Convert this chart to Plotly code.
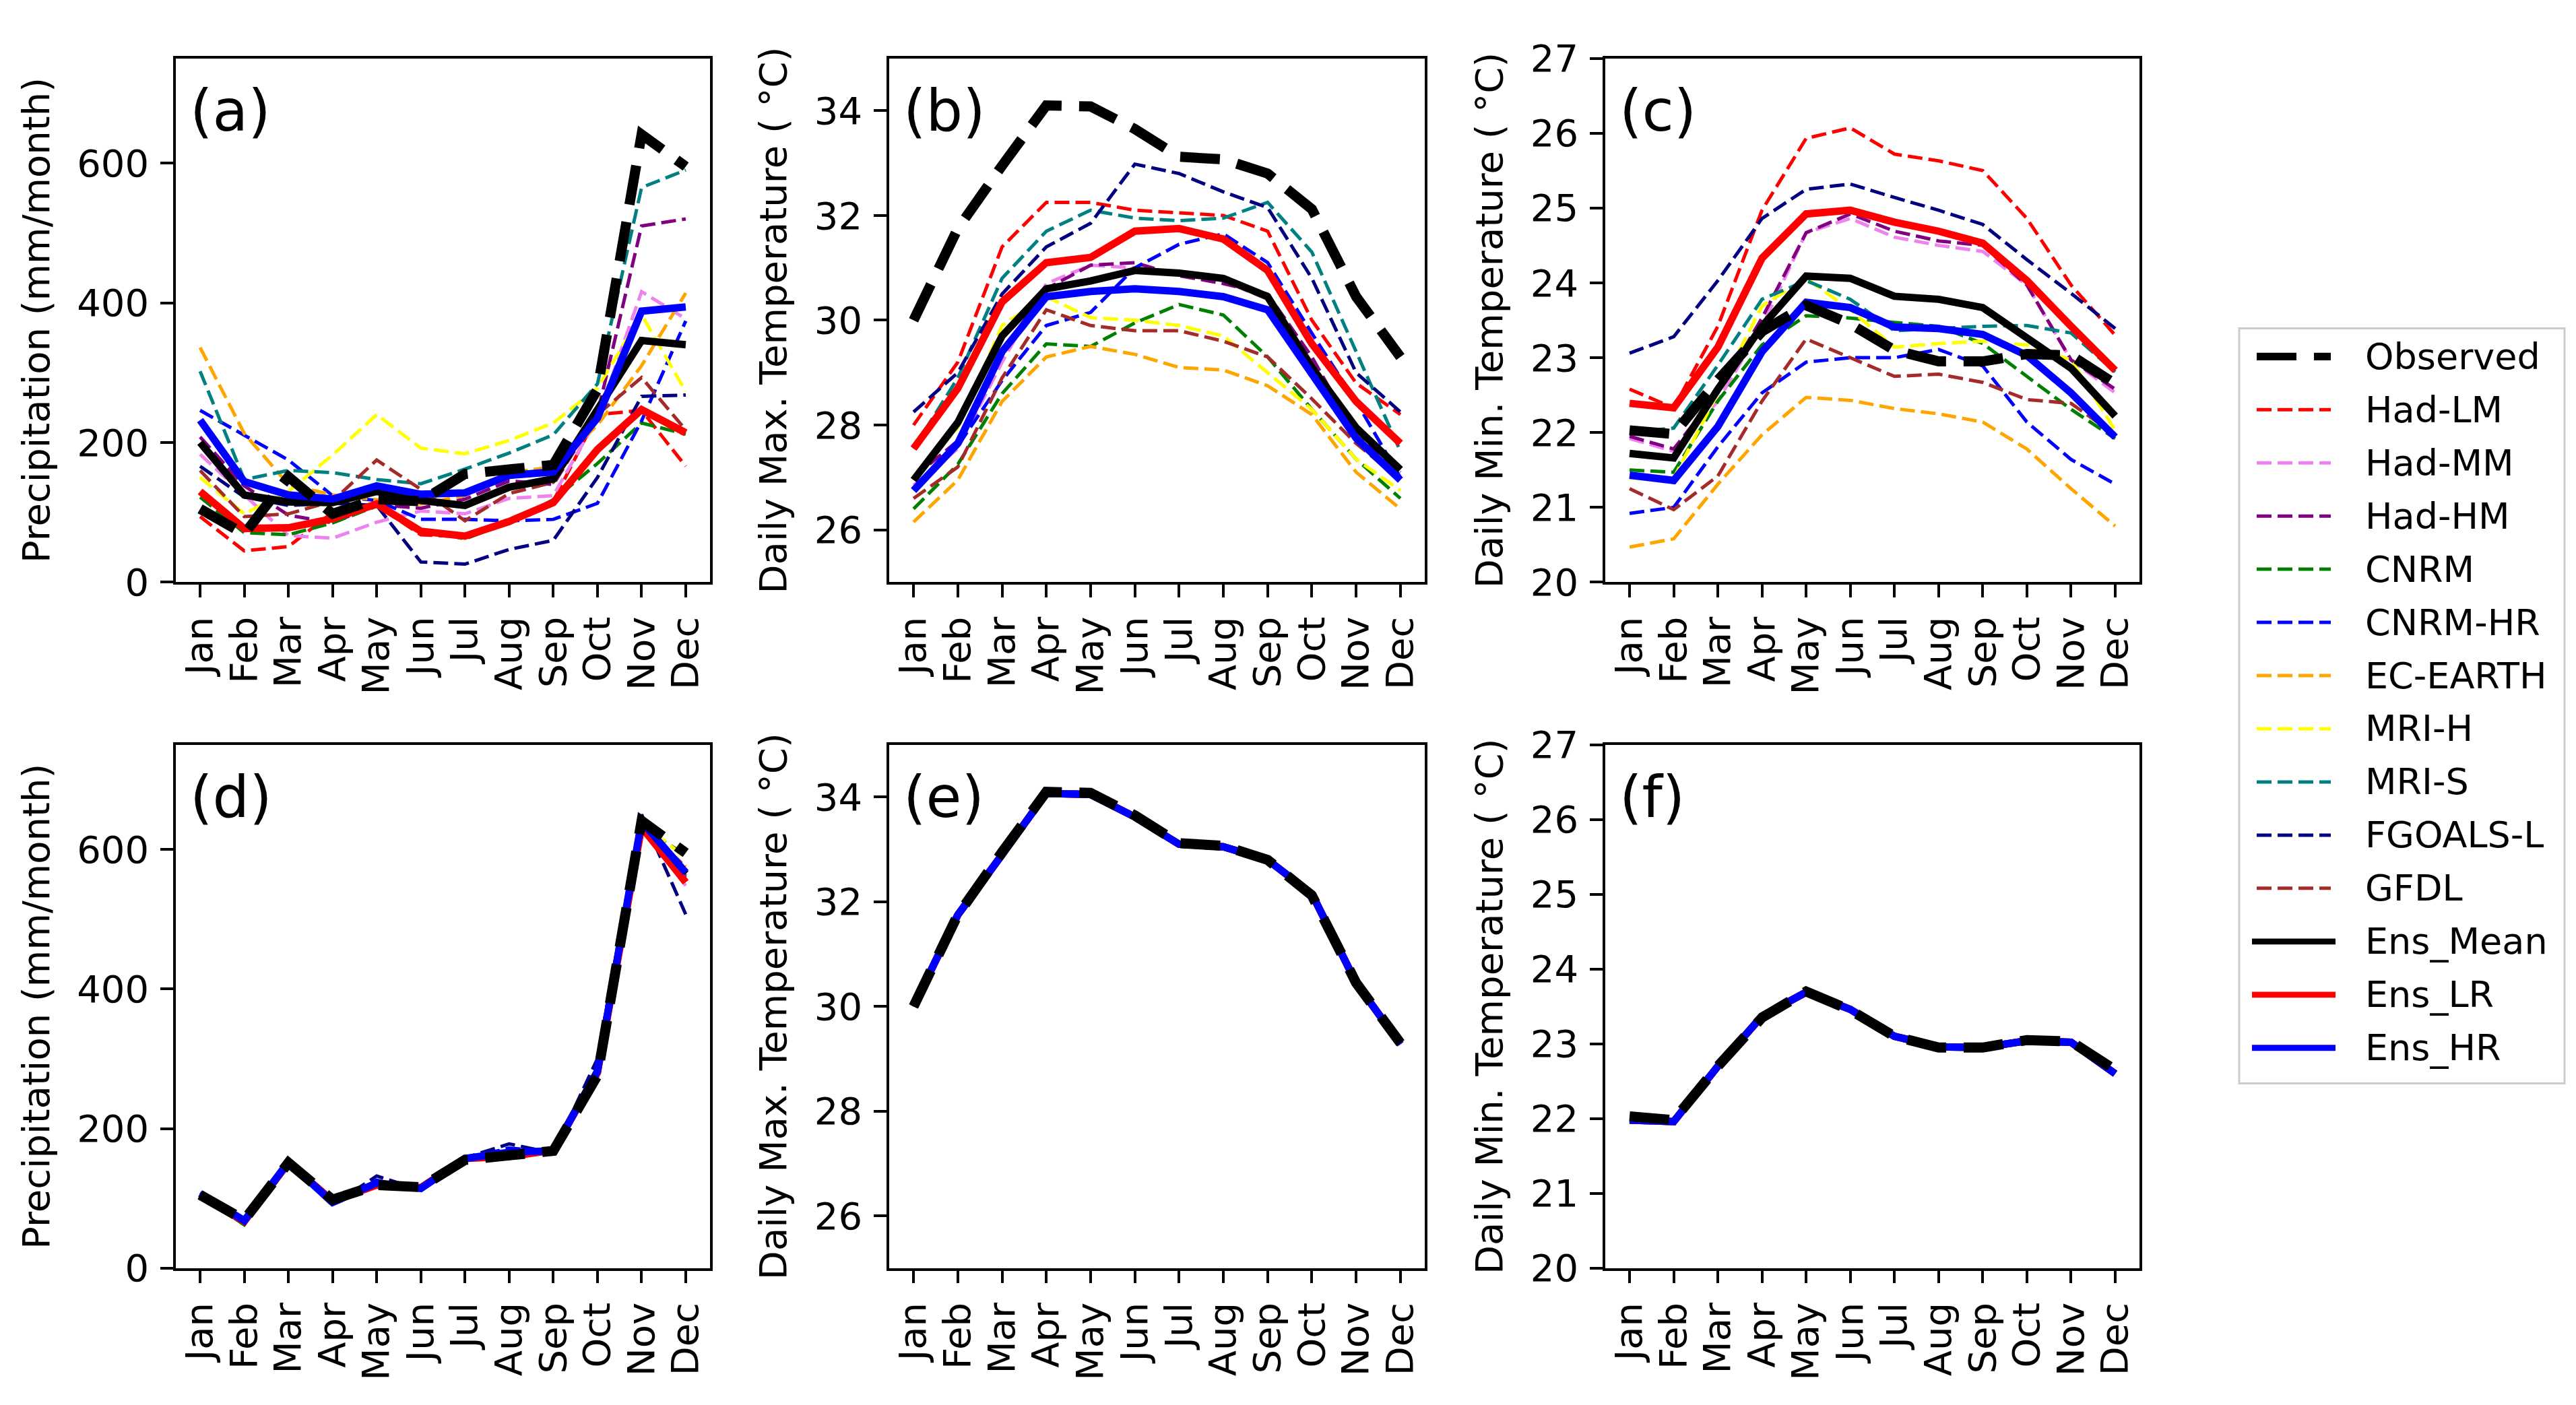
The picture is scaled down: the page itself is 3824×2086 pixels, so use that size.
import plotly.graph_objects as go

W, H = 3824, 2086

months = ['Jan', 'Feb', 'Mar', 'Apr', 'May', 'Jun', 'Jul', 'Aug', 'Sep', 'Oct', 'Nov', 'Dec']
model_names = ['Had-LM', 'Had-MM', 'Had-HM', 'CNRM', 'CNRM-HR', 'EC-EARTH',
               'MRI-H', 'MRI-S', 'FGOALS-L', 'GFDL']
ens_names = ['Ens_Mean', 'Ens_LR', 'Ens_HR']
model_colors = ['red', 'violet', 'purple', 'green', 'blue', 'orange',
                'yellow', 'teal', 'navy', 'brown']
ens_colors = ['black', 'red', 'blue']

# ---- (a) raw precipitation (mm/month)
obs_pr = [105, 69, 151, 98, 119, 116, 155, 161, 168, 276, 641, 595]
had_lm_pr = [94, 45, 51, 100, 110, 68, 65, 88, 116, 240, 246, 166]
had_mm_pr = [183, 125, 67, 63, 86, 102, 98, 120, 124, 235, 416, 377]
had_hm_pr = [208, 138, 96, 85, 111, 106, 119, 145, 140, 241, 510, 520]
cnrm_pr = [122, 71, 68, 85, 109, 75, 62, 86, 118, 170, 228, 212]
cnrm_hr_pr = [246, 210, 175, 124, 117, 90, 90, 88, 90, 113, 231, 374]
ec_earth_pr = [336, 213, 140, 125, 118, 112, 124, 157, 165, 225, 310, 414]
mri_h_pr = [150, 98, 130, 182, 240, 192, 184, 203, 228, 278, 383, 273]
mri_s_pr = [302, 147, 160, 157, 147, 141, 162, 185, 211, 284, 565, 590]
fgoals_l_pr = [166, 122, 110, 113, 110, 29, 26, 47, 60, 150, 266, 268]
gfdl_pr = [160, 94, 98, 116, 175, 133, 88, 127, 143, 240, 293, 218]
ens_mean_pr = [200, 125, 115, 114, 130, 117, 110, 136, 148, 247, 346, 340]
ens_lr_pr = [130, 77, 78, 91, 112, 73, 66, 87, 114, 190, 247, 214]
ens_hr_pr = [232, 144, 125, 119, 138, 126, 128, 153, 158, 235, 388, 394]

# ---- (b) raw daily max temperature (deg C)
obs_tx = [30.0, 31.75, 32.95, 34.1, 34.08, 33.65, 33.12, 33.07, 32.8, 32.12, 30.45, 29.3]
had_lm_tx = [28.0, 29.2, 31.4, 32.25, 32.25, 32.1, 32.05, 32.0, 31.7, 30.0, 28.8, 28.2]
had_mm_tx = [26.85, 27.55, 29.2, 30.7, 31.05, 31.0, 30.9, 30.75, 30.4, 29.2, 27.7, 27.0]
had_hm_tx = [27.0, 27.7, 29.4, 30.6, 31.05, 31.1, 30.85, 30.7, 30.5, 29.3, 27.8, 27.1]
cnrm_tx = [26.4, 27.25, 28.6, 29.55, 29.5, 29.95, 30.3, 30.1, 29.3, 28.3, 27.35, 26.6]
cnrm_hr_tx = [26.8, 27.6, 28.85, 29.9, 30.15, 31.0, 31.45, 31.65, 31.1, 29.75, 28.45, 27.0]
ec_earth_tx = [26.15, 26.95, 28.45, 29.3, 29.5, 29.35, 29.1, 29.05, 28.75, 28.2, 27.1, 26.4]
mri_h_tx = [27.0, 27.95, 29.9, 30.45, 30.05, 30.0, 29.9, 29.7, 29.0, 28.3, 27.35, 26.75]
mri_s_tx = [27.55, 28.9, 30.8, 31.7, 32.1, 31.95, 31.9, 31.95, 32.25, 31.3, 29.4, 27.5]
fgoals_l_tx = [28.25, 29.0, 30.5, 31.4, 31.85, 32.98, 32.8, 32.45, 32.15, 30.8, 29.0, 28.25]
gfdl_tx = [26.6, 27.2, 28.9, 30.2, 29.9, 29.8, 29.8, 29.6, 29.3, 28.5, 27.65, 26.95]
ens_mean_tx = [26.95, 28.05, 29.7, 30.6, 30.75, 30.95, 30.9, 30.8, 30.45, 29.1, 27.95, 27.15]
ens_lr_tx = [27.55, 28.7, 30.35, 31.1, 31.2, 31.7, 31.75, 31.55, 30.95, 29.55, 28.45, 27.65]
ens_hr_tx = [26.75, 27.65, 29.4, 30.45, 30.55, 30.6, 30.55, 30.45, 30.2, 29.0, 27.75, 26.95]

# ---- (c) raw daily min temperature (deg C)
obs_tn = [22.03, 21.98, 22.7, 23.35, 23.7, 23.45, 23.1, 22.95, 22.95, 23.05, 23.03, 22.65]
had_lm_tn = [22.58, 22.33, 23.42, 24.97, 25.93, 26.07, 25.72, 25.63, 25.5, 24.86, 23.97, 23.3]
had_mm_tn = [21.92, 21.75, 22.42, 23.42, 24.67, 24.86, 24.61, 24.5, 24.42, 23.97, 22.97, 22.53]
had_hm_tn = [21.95, 21.78, 22.53, 23.53, 24.67, 24.92, 24.69, 24.56, 24.5, 23.97, 22.97, 22.58]
cnrm_tn = [21.5, 21.47, 22.42, 23.17, 23.56, 23.53, 23.47, 23.42, 23.19, 22.75, 22.31, 21.92]
cnrm_hr_tn = [20.92, 21.0, 21.81, 22.53, 22.94, 23.0, 23.0, 23.11, 22.89, 22.14, 21.64, 21.31]
ec_earth_tn = [20.47, 20.58, 21.31, 21.97, 22.47, 22.43, 22.32, 22.25, 22.14, 21.78, 21.25, 20.75]
mri_h_tn = [21.39, 21.39, 22.53, 23.69, 24.06, 23.64, 23.14, 23.19, 23.22, 23.17, 22.97, 22.03]
mri_s_tn = [22.0, 22.06, 22.9, 23.78, 24.03, 23.78, 23.36, 23.39, 23.42, 23.43, 23.33, 22.81]
fgoals_l_tn = [23.06, 23.28, 24.03, 24.86, 25.25, 25.32, 25.14, 24.97, 24.78, 24.31, 23.86, 23.39]
gfdl_tn = [21.25, 20.97, 21.42, 22.42, 23.25, 23.0, 22.75, 22.78, 22.67, 22.44, 22.39, 21.97]
ens_mean_tn = [21.72, 21.66, 22.58, 23.42, 24.09, 24.06, 23.82, 23.78, 23.67, 23.25, 22.86, 22.22]
ens_lr_tn = [22.39, 22.33, 23.14, 24.33, 24.92, 24.97, 24.81, 24.69, 24.53, 24.03, 23.42, 22.83]
ens_hr_tn = [21.43, 21.36, 22.08, 23.08, 23.74, 23.67, 23.41, 23.39, 23.31, 23.03, 22.53, 21.94]

# ---- (d) bias-corrected precipitation
had_lm_pr_bc = [102, 68, 150, 96, 120, 115, 157, 160, 170, 285, 628, 553]
had_mm_pr_bc = [104, 67, 151, 96, 118, 116, 156, 158, 168, 280, 630, 548]
had_hm_pr_bc = [104, 68, 152, 97, 119, 115, 157, 160, 169, 278, 635, 562]
cnrm_pr_bc = [105, 62, 150, 97, 120, 116, 156, 160, 168, 272, 632, 592]
cnrm_hr_pr_bc = [108, 70, 152, 92, 126, 112, 157, 172, 166, 282, 645, 565]
ec_earth_pr_bc = [105, 68, 151, 97, 118, 115, 157, 160, 170, 278, 635, 575]
mri_h_pr_bc = [105, 68, 151, 97, 118, 115, 156, 160, 170, 276, 638, 588]
mri_s_pr_bc = [105, 68, 151, 97, 118, 115, 156, 160, 170, 280, 636, 560]
fgoals_l_pr_bc = [106, 68, 150, 90, 132, 112, 158, 178, 165, 300, 650, 507]
gfdl_pr_bc = [105, 68, 152, 97, 119, 116, 157, 160, 169, 276, 632, 575]
ens_mean_pr_bc = [105, 67, 151, 96, 121, 115, 157, 162, 169, 282, 637, 565]
ens_lr_pr_bc = [103, 67, 151, 96, 119, 115, 157, 160, 169, 280, 632, 553]
ens_hr_pr_bc = [107, 68, 152, 94, 122, 114, 157, 166, 168, 282, 640, 567]

# ---- (e), (f) bias-corrected temperatures (all runs coincide with observations)
tx_bc = [30.0, 31.75, 32.9, 34.07, 34.05, 33.62, 33.1, 33.05, 32.8, 32.15, 30.45, 29.28]
tn_bc = [21.98, 21.96, 22.7, 23.37, 23.69, 23.46, 23.1, 22.96, 22.95, 23.04, 23.02, 22.6]

panels = [
    dict(obs=obs_pr,
         models=[had_lm_pr, had_mm_pr, had_hm_pr, cnrm_pr, cnrm_hr_pr, ec_earth_pr,
                 mri_h_pr, mri_s_pr, fgoals_l_pr, gfdl_pr],
         ens=[ens_mean_pr, ens_lr_pr, ens_hr_pr]),
    dict(obs=obs_tx,
         models=[had_lm_tx, had_mm_tx, had_hm_tx, cnrm_tx, cnrm_hr_tx, ec_earth_tx,
                 mri_h_tx, mri_s_tx, fgoals_l_tx, gfdl_tx],
         ens=[ens_mean_tx, ens_lr_tx, ens_hr_tx]),
    dict(obs=obs_tn,
         models=[had_lm_tn, had_mm_tn, had_hm_tn, cnrm_tn, cnrm_hr_tn, ec_earth_tn,
                 mri_h_tn, mri_s_tn, fgoals_l_tn, gfdl_tn],
         ens=[ens_mean_tn, ens_lr_tn, ens_hr_tn]),
    dict(obs=obs_pr,
         models=[had_lm_pr_bc, had_mm_pr_bc, had_hm_pr_bc, cnrm_pr_bc, cnrm_hr_pr_bc,
                 ec_earth_pr_bc, mri_h_pr_bc, mri_s_pr_bc, fgoals_l_pr_bc, gfdl_pr_bc],
         ens=[ens_mean_pr_bc, ens_lr_pr_bc, ens_hr_pr_bc]),
    dict(obs=obs_tx, models=[tx_bc] * 10, ens=[tx_bc] * 3),
    dict(obs=obs_tn, models=[tn_bc] * 10, ens=[tn_bc] * 3),
]

panel_letters = ['(a)', '(b)', '(c)', '(d)', '(e)', '(f)']
pr_title = 'Precipitation (mm/month)'
tx_title = 'Daily Max. Temperature ( °C)'
tn_title = 'Daily Min. Temperature ( °C)'
y_titles = [pr_title, tx_title, tn_title, pr_title, tx_title, tn_title]
y_ranges = [[0, 750], [25, 35], [20, 27], [0, 750], [25, 35], [20, 27]]
y_ticks = [[0, 200, 400, 600], [26, 28, 30, 32, 34], [20, 21, 22, 23, 24, 25, 26, 27]]
y_ticks = y_ticks + y_ticks

FONT = 'DejaVu Sans'
FS = 56
MODEL_W, ENS_W, OBS_W = 5, 11, 15
MODEL_DASH = '22px,9px'
OBS_DASH = '59px,26px'

# axis boxes in pixels (left, right, top, bottom)
col_x = [(253, 1046), (1312, 2107), (2375, 3168)]
row_y = [(48, 851), (1100, 1902)]

fig = go.Figure()
xs = list(range(len(months)))

for i, p in enumerate(panels):
    ax = '' if i == 0 else str(i + 1)
    xa, ya = 'x' + ax, 'y' + ax
    for name, col, vals in zip(model_names, model_colors, p['models']):
        fig.add_trace(go.Scatter(x=xs, y=vals, mode='lines', name=name, xaxis=xa, yaxis=ya,
                                 line=dict(color=col, width=MODEL_W, dash=MODEL_DASH),
                                 showlegend=False))
    for name, col, vals in zip(ens_names, ens_colors, p['ens']):
        fig.add_trace(go.Scatter(x=xs, y=vals, mode='lines', name=name, xaxis=xa, yaxis=ya,
                                 line=dict(color=col, width=ENS_W),
                                 showlegend=False))
    fig.add_trace(go.Scatter(x=xs, y=p['obs'], mode='lines', name='Observed', xaxis=xa, yaxis=ya,
                             line=dict(color='black', width=OBS_W, dash=OBS_DASH),
                             showlegend=False))

    r, c = divmod(i, 3)
    x0, x1 = col_x[c]
    t, b = row_y[r]
    common = dict(showline=True, mirror=True, linecolor='black', linewidth=3.5,
                  ticks='outside', ticklen=19, tickwidth=3.5, tickcolor='black',
                  showgrid=False, zeroline=False,
                  tickfont=dict(family=FONT, size=FS, color='black'))
    fig.layout['xaxis' + ax] = dict(domain=[x0 / W, x1 / W], anchor=ya,
                                    range=[-0.55, 11.55], tickmode='array', tickvals=xs,
                                    ticktext=months, tickangle=-90, ticklabelstandoff=6,
                                    **common)
    fig.layout['yaxis' + ax] = dict(domain=[1 - b / H, 1 - t / H], anchor=xa,
                                    range=y_ranges[i], tickmode='array', tickvals=y_ticks[i],
                                    ticklabelstandoff=6,
                                    title=dict(text=y_titles[i], standoff=24,
                                               font=dict(family=FONT, size=FS, color='black')),
                                    **common)
    fig.add_annotation(text=panel_letters[i], xref=xa + ' domain', yref=ya + ' domain',
                       x=0.024, y=0.90, xanchor='left', yanchor='middle', showarrow=False,
                       font=dict(family=FONT, size=86, color='black'))

# ---- legend drawn as a box with line samples and text
leg_entries = [('Observed', 'black', OBS_W * 0.75, OBS_DASH, 'obs')]
leg_entries += [(n, c, MODEL_W, MODEL_DASH, 'model') for n, c in zip(model_names, model_colors)]
leg_entries += [(n, c, ENS_W * 0.8, 'solid', 'ens') for n, c in zip(ens_names, ens_colors)]

shapes = [dict(type='rect', xref='paper', yref='paper',
               x0=3316 / W, x1=3799 / W, y0=1 - 1619 / H, y1=1 - 462 / H,
               line=dict(color='#cccccc', width=3), fillcolor='white', layer='below')]
row0, dy = 505, 81.5
for k, (name, col, wdt, dash, kind) in enumerate(leg_entries):
    yy = 1 - (row0 + k * dy) / H
    lx0, lx1 = (3335, 3459) if kind == 'ens' else (3342, 3452)
    shapes.append(dict(type='line', xref='paper', yref='paper', x0=lx0 / W, x1=lx1 / W,
                       y0=yy, y1=yy, line=dict(color=col, width=wdt, dash=dash)))
    fig.add_annotation(text=name, xref='paper', yref='paper', x=3501 / W, y=yy,
                       xanchor='left', yanchor='middle', showarrow=False,
                       font=dict(family=FONT, size=54, color='black'))

fig.update_layout(width=W, height=H, autosize=False,
                  margin=dict(l=0, r=0, t=0, b=0),
                  paper_bgcolor='white', plot_bgcolor='white',
                  font=dict(family=FONT, size=FS, color='black'),
                  shapes=shapes, showlegend=False)

fig.write_html('out.html')
